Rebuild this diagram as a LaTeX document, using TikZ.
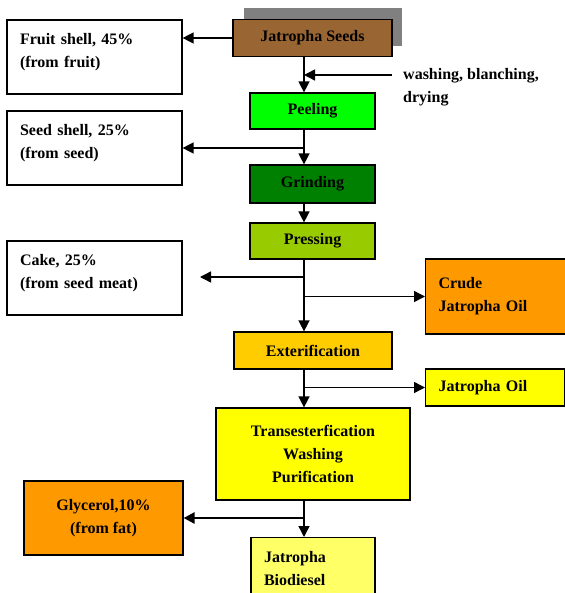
\documentclass[tikz,border=0pt]{standalone}
\usepackage{fontspec}
\setmainfont{Liberation Serif}
\usetikzlibrary{positioning, arrows.meta}
\newcommand{\flowfont}{\fontsize{16}{23}\selectfont\bfseries}
\tikzstyle{block}=[draw,rectangle,line width=1.2pt,inner sep=0pt,font=\flowfont,align=center]
\tikzstyle{outbox}=[block,fill=white,align=left,inner xsep=13pt]
\tikzstyle{flow}=[line width=1.4pt,-{Triangle[length=11pt,width=11pt]}]
\definecolor{seedbrown}{HTML}{996633}
\definecolor{peelgreen}{HTML}{00FF00}
\definecolor{grindgreen}{HTML}{008000}
\definecolor{pressgreen}{HTML}{99CC00}
\definecolor{oilorange}{HTML}{FF9900}
\definecolor{estergold}{HTML}{FFCC00}
\definecolor{oilyellow}{HTML}{FFFF00}
\definecolor{dieselyellow}{HTML}{FFFF66}

\begin{document}
\begin{tikzpicture}[x=1pt,y=-1pt,>=latex]
            \useasboundingbox (0,0) rectangle (564,593);
            % shadow behind the seed box
            \fill[gray] (244,8) rectangle (402,46);
            \node[block, fill=seedbrown, minimum width=159pt, minimum height=37pt] (seeds) at (312.5,38) {Jatropha Seeds};
            \node[outbox, text width=149pt, minimum height=74pt, text depth=36pt] (fruit) at (94.5,57) {Fruit shell, 45\%\\(from fruit)};
            \node[block, fill=peelgreen, minimum width=125pt, minimum height=36pt] (peel) at (312.5,111) {Peeling};
            \node[outbox, text width=149pt, minimum height=74pt, text depth=36pt] (seedshell) at (94.5,148) {Seed shell, 25\%\\(from seed)};
            \node[block, fill=grindgreen, minimum width=125pt, minimum height=38pt] (grind) at (312.5,184) {Grinding};
            \node[block, fill=pressgreen, minimum width=125pt, minimum height=36pt] (press) at (312.5,241) {Pressing};
            \node[outbox, text width=149pt, minimum height=74pt, text depth=36pt] (cake) at (94.5,278) {Cake, 25\%\\(from seed meat)};
            \node[outbox, fill=oilorange, text width=130pt, minimum height=75pt, anchor=west] (crude) at (425,296.5) {Crude\\Jatropha Oil};
            \node[block, fill=estergold, minimum width=158pt, minimum height=37pt] (ester) at (313,350.5) {Exterification};
            \node[outbox, fill=oilyellow, text width=113pt, minimum height=37pt, anchor=west] (oil) at (425,387.5) {Jatropha Oil};
            \node[block, fill=oilyellow, minimum width=194pt, minimum height=92pt] (trans) at (313,454) {Transesterfication\\Washing\\Purification};
            \node[block, fill=oilorange, minimum width=159pt, minimum height=74pt] (glyc) at (103.5,518) {Glycerol,10\%\\(from fat)};
            \node[outbox, fill=dieselyellow, text width=98pt, inner ysep=14pt, text depth=50pt, anchor=north] (bio) at (313,537) {Jatropha\\Biodiesel};
            \node[font=\flowfont, align=left, anchor=west, inner sep=0pt] (wash) at (403,87) {washing, blanching,\\drying};
            \coordinate (spine) at (304,0);
            \coordinate (washin) at (392,75);
            \coordinate (cakeend) at (200,277);
            % main line
            \draw[flow] (seeds.south -| spine) -- (peel.north -| spine);
            \draw[flow] (peel.south -| spine) -- (grind.north -| spine);
            \draw[flow] (grind.south -| spine) -- (press.north -| spine);
            \draw[flow] (press.south -| spine) -- (ester.north -| spine);
            \draw[flow] (ester.south -| spine) -- (trans.north -| spine);
            \draw[flow] (trans.south -| spine) -- (bio.north -| spine);
            % side streams
            \draw[flow] (seeds.west) -- (seeds.west -| fruit.east);
            \draw[flow] (washin) -- (washin -| spine);
            \draw[flow] (spine |- seedshell) -- (seedshell.east);
            \draw[flow] (spine |- cakeend) -- (cakeend);
            \draw[flow] (spine |- crude) -- (crude.west);
            \draw[flow] (spine |- oil) -- (oil.west);
            \draw[flow, line width=2.6pt] (spine |- glyc) -- (glyc.east);
        \end{tikzpicture}
\end{document}
